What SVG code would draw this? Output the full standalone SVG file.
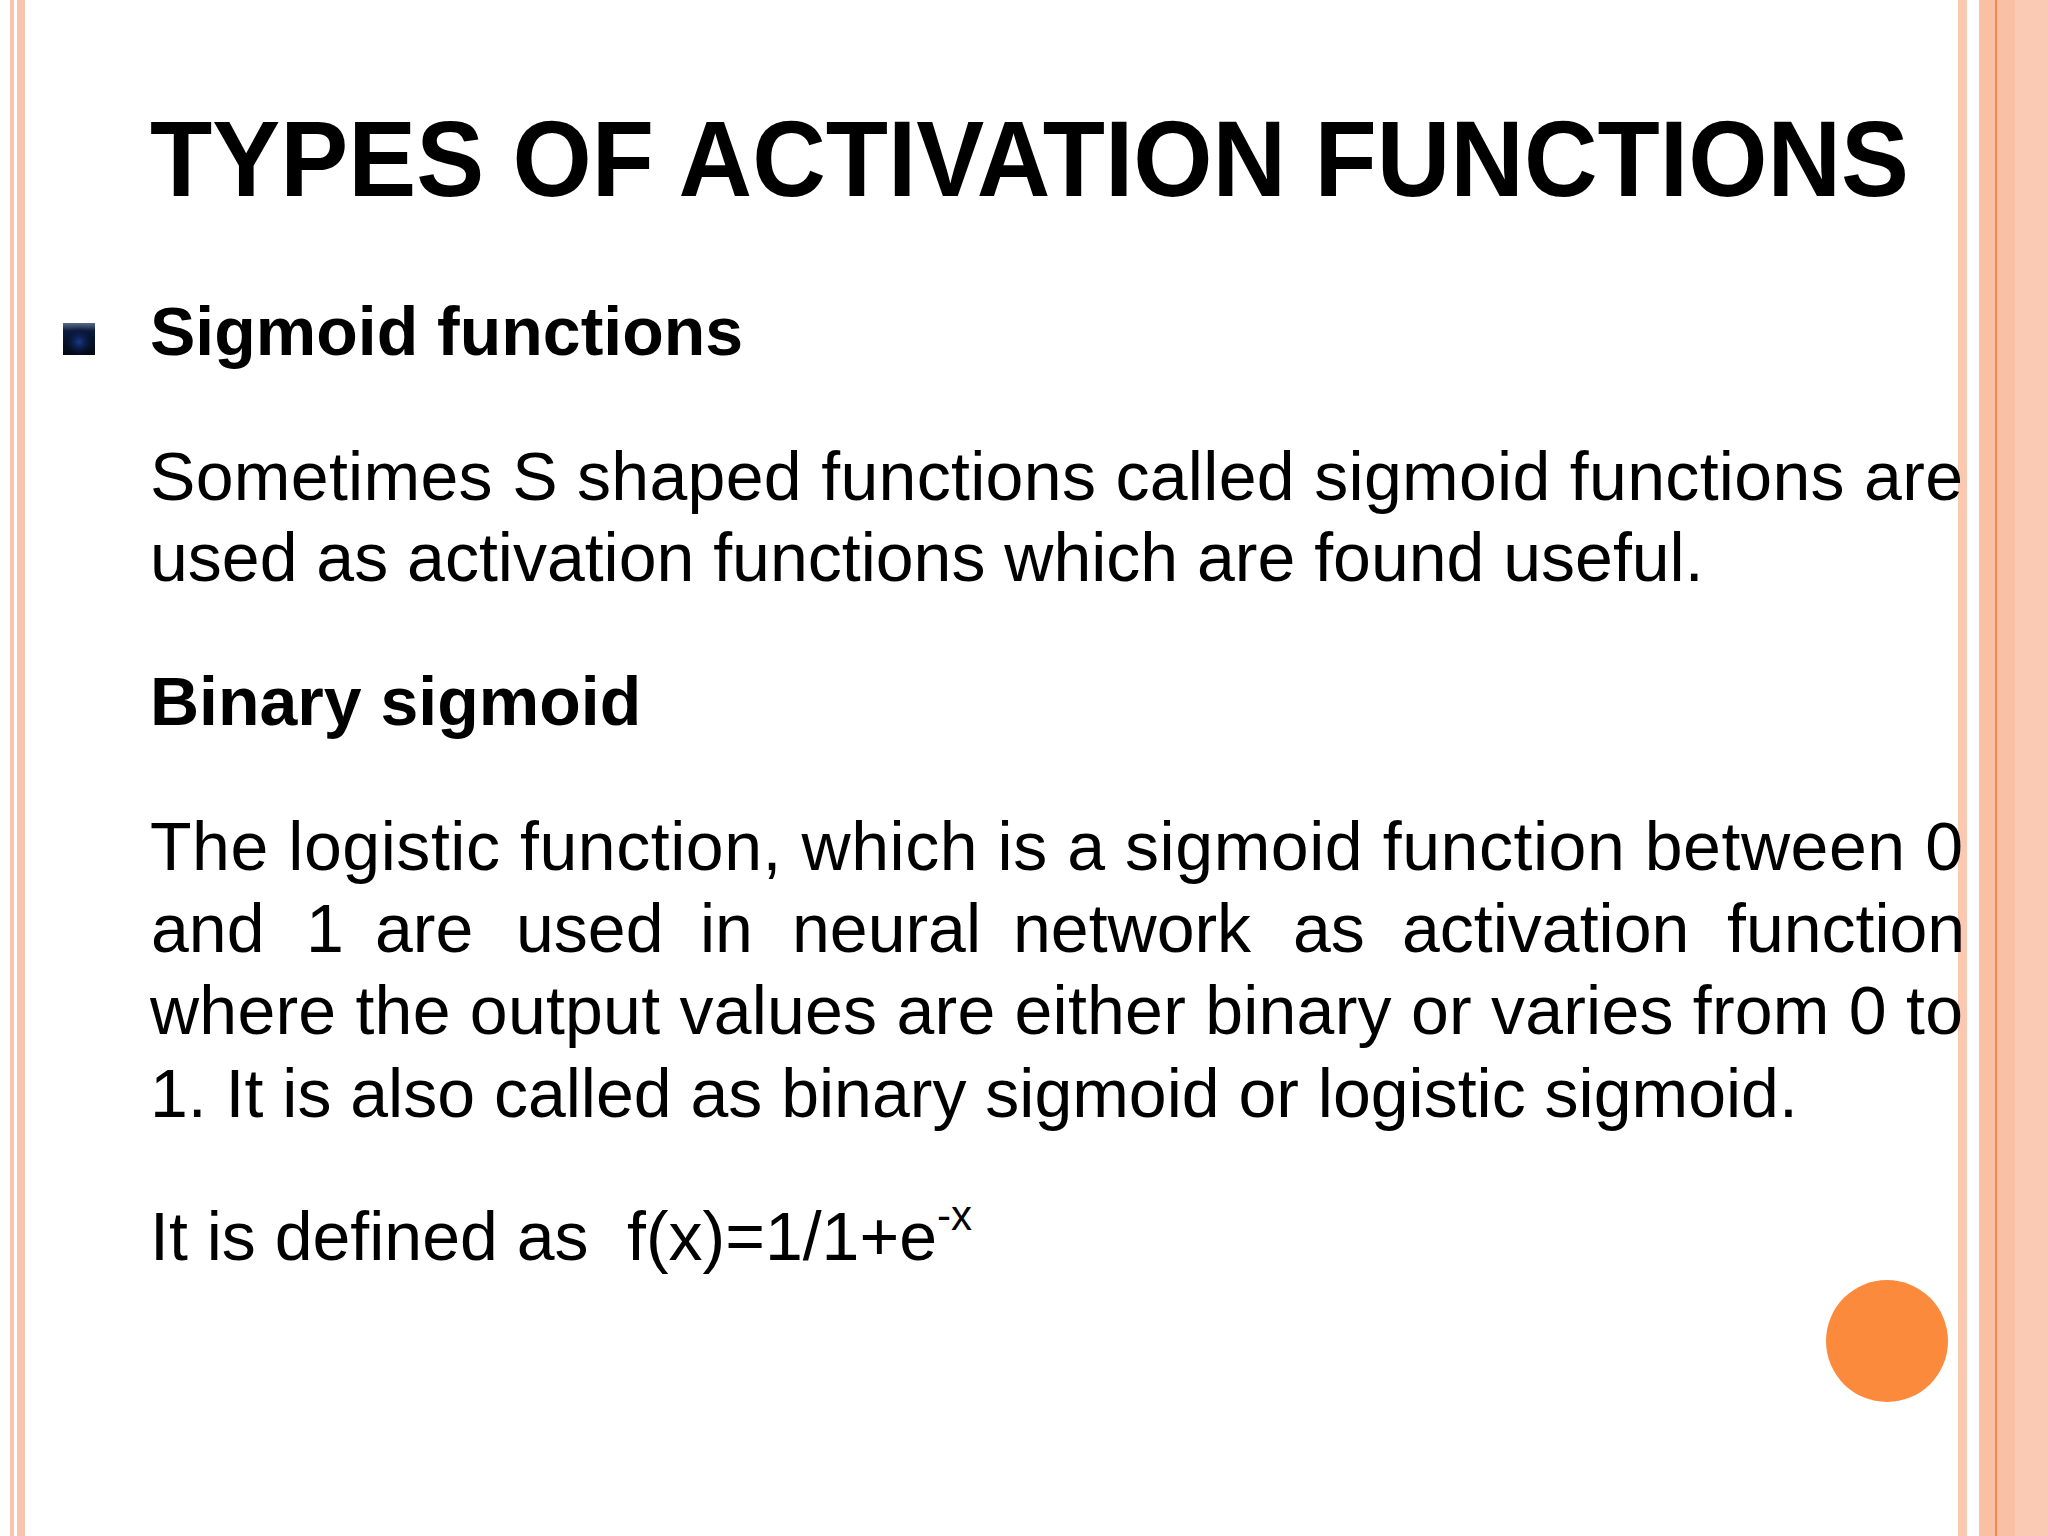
<svg xmlns="http://www.w3.org/2000/svg" width="2048" height="1536" viewBox="0 0 2048 1536">
<defs>
<linearGradient id="bg" x1="0" y1="0" x2="0" y2="1"><stop offset="0" stop-color="#5a6a88"/><stop offset="0.25" stop-color="#0a1a40"/><stop offset="1" stop-color="#020814"/></linearGradient>
<radialGradient id="bb" cx="0.5" cy="0.6" r="0.5"><stop offset="0" stop-color="#1a3a90"/><stop offset="1" stop-color="#020814" stop-opacity="0"/></radialGradient>
</defs>
<style>
text{font-family:"Liberation Sans",Arial,sans-serif;fill:#000}
.b{font-weight:bold}
.t{font-size:68px}
</style>
<rect width="2048" height="1536" fill="#fff"/>
<g id="borders">
<rect x="10" y="0" width="4" height="1536" fill="#f9c4ae"/>
<rect x="17" y="0" width="8" height="1536" fill="#f9c4ae"/>
<rect x="1958" y="0" width="9" height="1536" fill="#fbc8b2"/>
<rect x="1979" y="0" width="69" height="1536" fill="#fbcab4"/>
<rect x="1979" y="0" width="36" height="1536" fill="#fac0a6"/>
<rect x="1995" y="0" width="2" height="1536" fill="#f08a50"/>
</g>
<g id="title"><text class="b" x="150" y="196" font-size="108" textLength="1759" lengthAdjust="spacingAndGlyphs">TYPES OF ACTIVATION FUNCTIONS</text></g>
<g id="bullet"><rect x="63" y="323" width="32" height="32" fill="url(#bg)"/><rect x="63" y="323" width="32" height="32" fill="url(#bb)"/></g>
<g id="body">
<text class="b t" x="150" y="355">Sigmoid functions</text>
<text class="t" x="150" y="500" textLength="1813" lengthAdjust="spacing">Sometimes S shaped functions called sigmoid functions are</text>
<text class="t" x="150" y="581">used as activation functions which are found useful.</text>
<text class="b t" x="150" y="725">Binary sigmoid</text>
<text class="t" x="150" y="870" textLength="1813" lengthAdjust="spacing">The logistic function, which is a sigmoid function between 0</text>
<text class="t" y="952"><tspan x="151">and </tspan><tspan x="306">1 </tspan><tspan x="375">are </tspan><tspan x="516">used </tspan><tspan x="700">in </tspan><tspan x="792">neural </tspan><tspan x="1013">network </tspan><tspan x="1293">as </tspan><tspan x="1402">activation </tspan><tspan x="1727">function</tspan></text>
<text class="t" x="150" y="1034" textLength="1813" lengthAdjust="spacing">where the output values are either binary or varies from 0 to</text>
<text class="t" x="150" y="1117">1. It is also called as binary sigmoid or logistic sigmoid.</text>
<text class="t" x="150" y="1260">It is defined as <tspan x="627">f(x)=1/1+e</tspan><tspan font-size="42" dy="-30">-x</tspan></text>
</g>
<g id="dot"><circle cx="1887" cy="1341" r="61" fill="#fb8a3c"/></g>
</svg>
